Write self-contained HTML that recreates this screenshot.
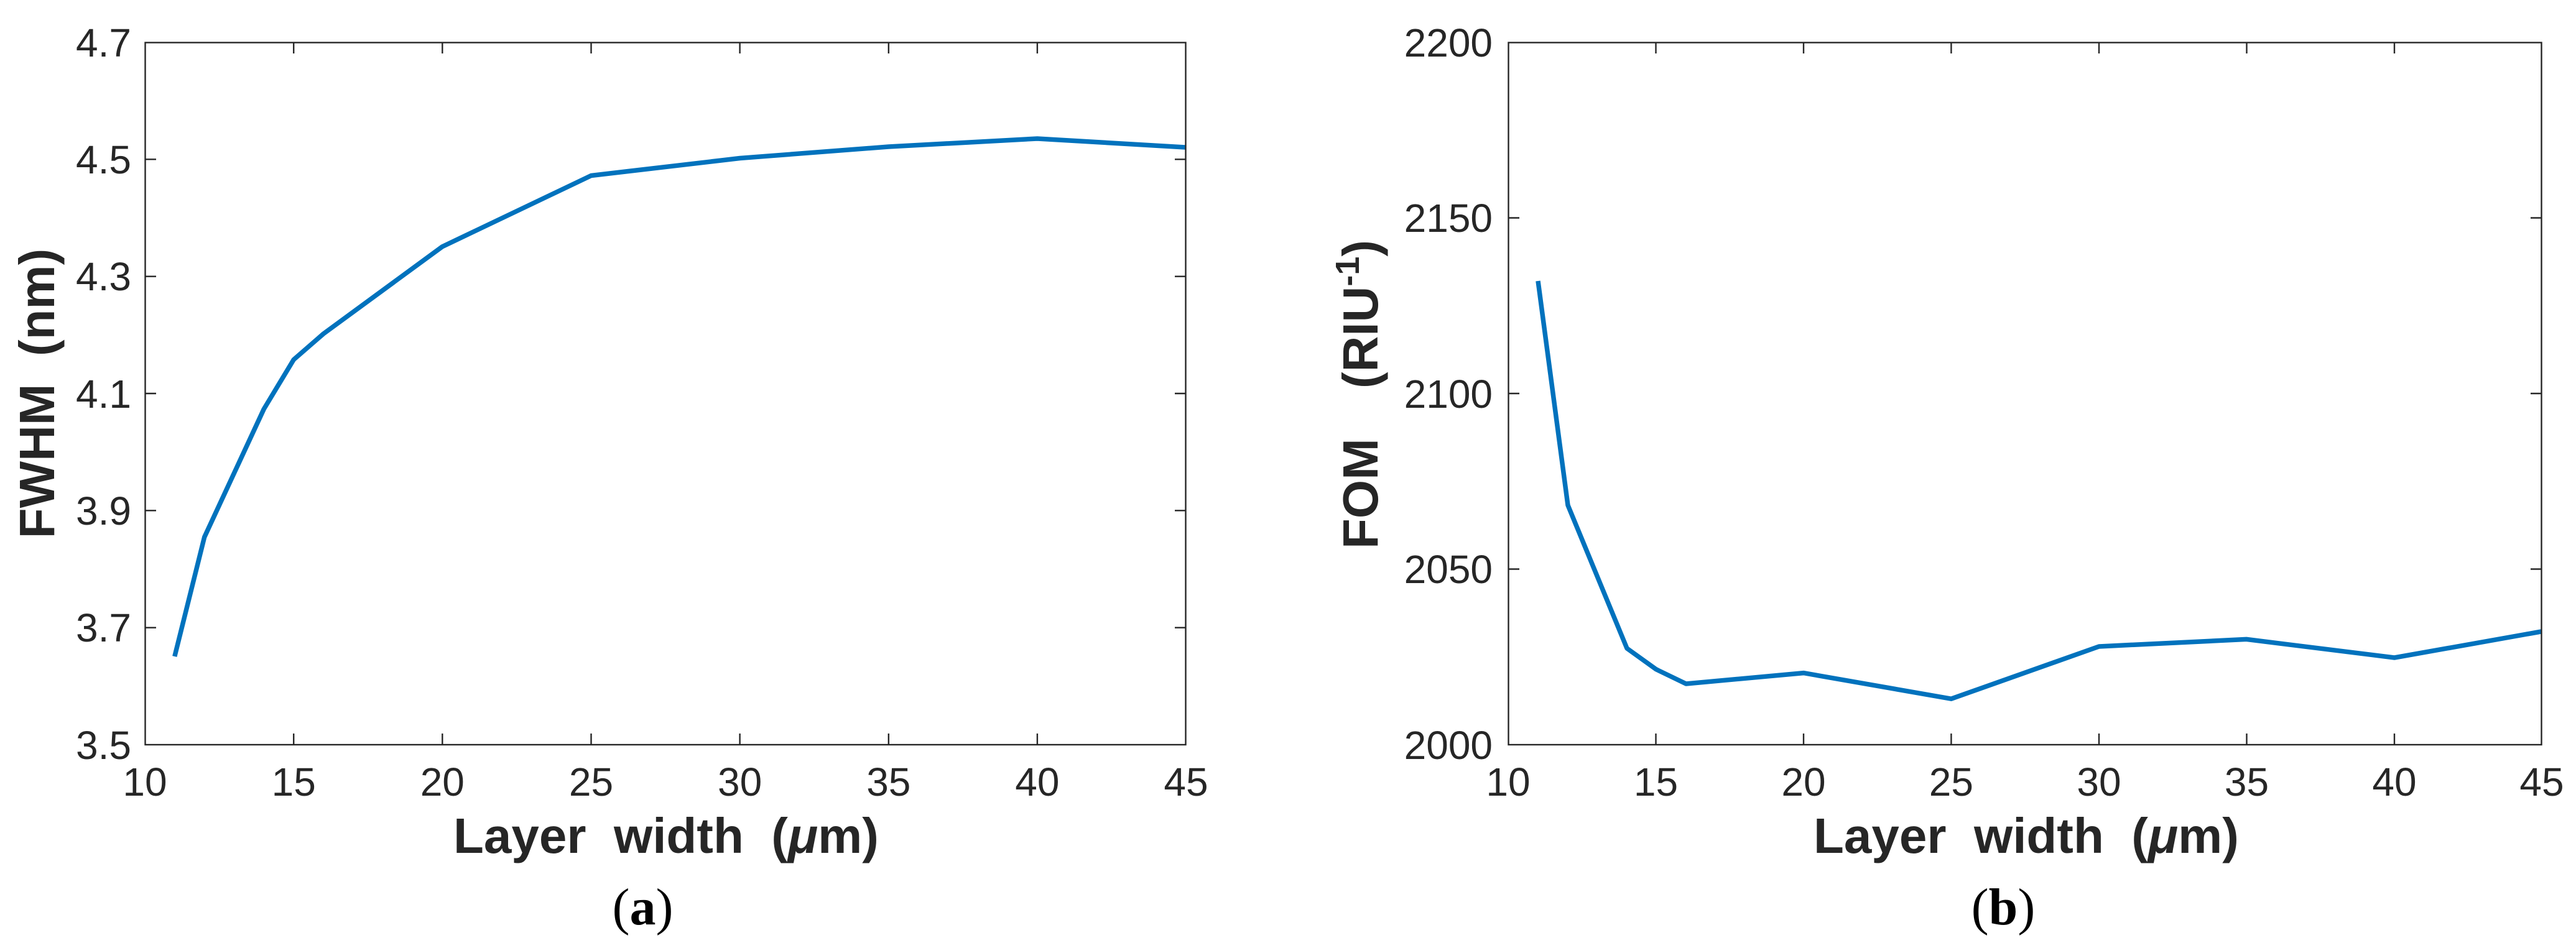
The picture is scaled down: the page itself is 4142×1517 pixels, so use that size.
<!DOCTYPE html>
<html>
<head>
<meta charset="utf-8">
<style>
  html, body { margin: 0; padding: 0; background: #ffffff; }
  svg { display: block; }
  text { font-family: "Liberation Sans", Arial, Helvetica, sans-serif; fill: #262626; }
  .tick { font-size: 64px; }
  .lab { font-size: 80px; font-weight: bold; }
  .cap { font-family: "Liberation Serif", "Times New Roman", serif; font-size: 84px; fill: #000; }
</style>
</head>
<body>
<svg width="4142" height="1517" viewBox="0 0 4142 1517" xmlns="http://www.w3.org/2000/svg">
  <rect x="0" y="0" width="4142" height="1517" fill="#ffffff"/>

  <!-- ================= LEFT PLOT (a) ================= -->
  <!-- data line -->
  <polyline fill="none" stroke="#0072BD" stroke-width="7.5" stroke-linejoin="round" stroke-linecap="butt"
    points="280.8,1056 328.7,864 424.3,658 472.2,578.6 520,537 711.3,396.7 950.5,282.5 1189.6,254.5 1428.8,236 1667.9,223 1906,237"/>

  <!-- axes box -->
  <rect x="233.5" y="68.5" width="1673" height="1129.5" fill="none" stroke="#262626" stroke-width="2.4"/>

  <!-- x ticks (bottom & top) -->
  <g stroke="#262626" stroke-width="2.4">
    <line x1="472.2" y1="1198" x2="472.2" y2="1180"/><line x1="472.2" y1="68" x2="472.2" y2="86"/>
    <line x1="711.3" y1="1198" x2="711.3" y2="1180"/><line x1="711.3" y1="68" x2="711.3" y2="86"/>
    <line x1="950.5" y1="1198" x2="950.5" y2="1180"/><line x1="950.5" y1="68" x2="950.5" y2="86"/>
    <line x1="1189.6" y1="1198" x2="1189.6" y2="1180"/><line x1="1189.6" y1="68" x2="1189.6" y2="86"/>
    <line x1="1428.8" y1="1198" x2="1428.8" y2="1180"/><line x1="1428.8" y1="68" x2="1428.8" y2="86"/>
    <line x1="1667.9" y1="1198" x2="1667.9" y2="1180"/><line x1="1667.9" y1="68" x2="1667.9" y2="86"/>
    <!-- y ticks (left & right) -->
    <line x1="233" y1="256.3" x2="251" y2="256.3"/><line x1="1907" y1="256.3" x2="1889" y2="256.3"/>
    <line x1="233" y1="444.7" x2="251" y2="444.7"/><line x1="1907" y1="444.7" x2="1889" y2="444.7"/>
    <line x1="233" y1="633" x2="251" y2="633"/><line x1="1907" y1="633" x2="1889" y2="633"/>
    <line x1="233" y1="821.3" x2="251" y2="821.3"/><line x1="1907" y1="821.3" x2="1889" y2="821.3"/>
    <line x1="233" y1="1009.7" x2="251" y2="1009.7"/><line x1="1907" y1="1009.7" x2="1889" y2="1009.7"/>
  </g>

  <!-- y tick labels -->
  <g class="tick" text-anchor="end">
    <text x="211" y="91">4.7</text>
    <text x="211" y="279">4.5</text>
    <text x="211" y="467">4.3</text>
    <text x="211" y="656">4.1</text>
    <text x="211" y="844">3.9</text>
    <text x="211" y="1032">3.7</text>
    <text x="211" y="1221">3.5</text>
  </g>
  <!-- x tick labels -->
  <g class="tick" text-anchor="middle">
    <text x="233" y="1280">10</text>
    <text x="472.2" y="1280">15</text>
    <text x="711.3" y="1280">20</text>
    <text x="950.5" y="1280">25</text>
    <text x="1189.6" y="1280">30</text>
    <text x="1428.8" y="1280">35</text>
    <text x="1667.9" y="1280">40</text>
    <text x="1907" y="1280">45</text>
  </g>

  <!-- axis labels -->
  <text class="lab" x="1071" y="1372" text-anchor="middle">Layer&#160;&#160;width&#160;&#160;(<tspan font-style="italic">μ</tspan>m)</text>
  <text class="lab" transform="translate(87,633) rotate(-90)" text-anchor="middle">FWHM&#160;&#160;(nm)</text>

  <!-- caption -->
  <text class="cap" x="1033.5" y="1487" text-anchor="middle">(<tspan font-weight="bold">a</tspan>)</text>

  <!-- ================= RIGHT PLOT (b) ================= -->
  <polyline fill="none" stroke="#0072BD" stroke-width="7.5" stroke-linejoin="round" stroke-linecap="butt"
    points="2473,452 2521,812.7 2616,1043 2663,1076.8 2711,1100 2900,1082.6 3137.4,1124.2 3375,1040 3612,1028.4 3850,1058 4086,1016"/>

  <rect x="2425.5" y="68.5" width="1661" height="1129.5" fill="none" stroke="#262626" stroke-width="2.4"/>

  <g stroke="#262626" stroke-width="2.4">
    <line x1="2662.5" y1="1198" x2="2662.5" y2="1180"/><line x1="2662.5" y1="68" x2="2662.5" y2="86"/>
    <line x1="2900" y1="1198" x2="2900" y2="1180"/><line x1="2900" y1="68" x2="2900" y2="86"/>
    <line x1="3137.4" y1="1198" x2="3137.4" y2="1180"/><line x1="3137.4" y1="68" x2="3137.4" y2="86"/>
    <line x1="3375" y1="1198" x2="3375" y2="1180"/><line x1="3375" y1="68" x2="3375" y2="86"/>
    <line x1="3612.5" y1="1198" x2="3612.5" y2="1180"/><line x1="3612.5" y1="68" x2="3612.5" y2="86"/>
    <line x1="3850" y1="1198" x2="3850" y2="1180"/><line x1="3850" y1="68" x2="3850" y2="86"/>
    <line x1="2425" y1="350.5" x2="2443" y2="350.5"/><line x1="4087" y1="350.5" x2="4069" y2="350.5"/>
    <line x1="2425" y1="633" x2="2443" y2="633"/><line x1="4087" y1="633" x2="4069" y2="633"/>
    <line x1="2425" y1="915.5" x2="2443" y2="915.5"/><line x1="4087" y1="915.5" x2="4069" y2="915.5"/>
  </g>

  <g class="tick" text-anchor="end">
    <text x="2400" y="91">2200</text>
    <text x="2400" y="373">2150</text>
    <text x="2400" y="656">2100</text>
    <text x="2400" y="938">2050</text>
    <text x="2400" y="1221">2000</text>
  </g>
  <g class="tick" text-anchor="middle">
    <text x="2425" y="1280">10</text>
    <text x="2662.5" y="1280">15</text>
    <text x="2900" y="1280">20</text>
    <text x="3137.4" y="1280">25</text>
    <text x="3375" y="1280">30</text>
    <text x="3612.5" y="1280">35</text>
    <text x="3850" y="1280">40</text>
    <text x="4087" y="1280">45</text>
  </g>

  <text class="lab" x="3258" y="1372" text-anchor="middle">Layer&#160;&#160;width&#160;&#160;(<tspan font-style="italic">μ</tspan>m)</text>
  <text class="lab" transform="translate(2215,883) rotate(-90)">FOM</text>
  <text class="lab" transform="translate(2215,625) rotate(-90)">(RIU<tspan font-size="54" dy="-30">-1</tspan><tspan dy="30">)</tspan></text>

  <text class="cap" x="3221" y="1487" text-anchor="middle">(<tspan font-weight="bold">b</tspan>)</text>
</svg>
</body>
</html>
